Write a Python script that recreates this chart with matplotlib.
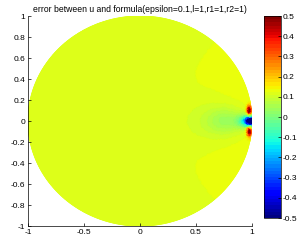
import numpy as np
import matplotlib
matplotlib.use("Agg")
import matplotlib.pyplot as plt
import matplotlib.tri as mtri

plt.rcParams["font.family"] = ["Liberation Sans", "DejaVu Sans"]

# error field on the unit disk, described by a base level plus a few blobs
base_level = 0.12
blob_x = [0.99, 0.975, 0.975, 0.93, 0.78, 0.65, 1.0]
blob_y = [0.0, 0.10, -0.10, 0.0, 0.0, 0.0, 0.0]
blob_amp = [-0.75, 0.42, 0.42, -0.14, -0.07, -0.03, 0.017]
blob_sx = [0.05, 0.02, 0.02, 0.07, 0.17, 0.28, 0.55]
blob_sy = [0.04, 0.045, 0.045, 0.06, 0.12, 0.22, 0.8]

x_ticks = [-1, -0.5, 0, 0.5, 1]
y_ticks = [-1, -0.8, -0.6, -0.4, -0.2, 0, 0.2, 0.4, 0.6, 0.8, 1]
cb_ticks = [-0.5, -0.4, -0.3, -0.2, -0.1, 0, 0.1, 0.2, 0.3, 0.4, 0.5]
title = "error between u and formula(epsilon=0.1,l=1,r1=1,r2=1)"

# polar mesh, denser near the boundary point (1,0)
r = np.linspace(0, 1, 220)
t = np.linspace(0, 2 * np.pi, 720, endpoint=False)
R, T = np.meshgrid(r, t)
X = (R * np.cos(T)).ravel()
Y = (R * np.sin(T)).ravel()
rr, tt = np.meshgrid(np.linspace(0.002, 0.2, 80), np.linspace(np.pi / 2, 3 * np.pi / 2, 160))
ex = 1 + rr * np.cos(tt)
ey = rr * np.sin(tt)
keep = ex ** 2 + ey ** 2 <= 1
X = np.concatenate([X, ex[keep]])
Y = np.concatenate([Y, ey[keep]])

Z = np.full_like(X, base_level)
for bx, by, a, sx, sy in zip(blob_x, blob_y, blob_amp, blob_sx, blob_sy):
    Z += a * np.exp(-((X - bx) / sx) ** 2 - ((Y - by) / sy) ** 2)
Z = np.clip(Z, -0.5, 0.5)

tri = mtri.Triangulation(X, Y)
cx = X[tri.triangles].mean(axis=1)
cy = Y[tri.triangles].mean(axis=1)
tri.set_mask(cx ** 2 + cy ** 2 > 1.0)

fig = plt.figure(figsize=(2.97, 2.47), dpi=100)
ax = fig.add_axes([0.094, 0.085, 0.754, 0.85])
cmap = plt.get_cmap("jet", 64)
tpc = ax.tripcolor(tri, Z, shading="gouraud", cmap=cmap, vmin=-0.5, vmax=0.5)

ax.set_xlim(-1, 1)
ax.set_ylim(-1, 1)
ax.set_xticks(x_ticks)
ax.set_xticklabels([f"{v:g}" for v in x_ticks])
ax.set_yticks(y_ticks)
ax.set_yticklabels([f"{v:g}" for v in y_ticks])
ax.tick_params(direction="in", labelsize=6, length=2, width=0.5, pad=2)
for s in ["top", "right"]:
    ax.spines[s].set_visible(False)
for s in ["left", "bottom"]:
    ax.spines[s].set_linewidth(0.5)
ax.set_title(title, fontsize=6.2, pad=3)

cax = fig.add_axes([0.889, 0.117, 0.057, 0.818])
cb = fig.colorbar(tpc, cax=cax, ticks=cb_ticks)
cb.ax.set_yticklabels([f"{v:g}" for v in cb_ticks])
cb.ax.tick_params(direction="in", labelsize=6, length=2, width=0.5, pad=1)
cb.outline.set_linewidth(0.5)

fig.savefig("out.png", dpi=100)
